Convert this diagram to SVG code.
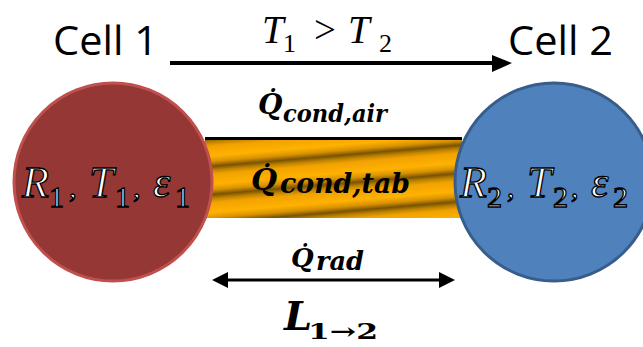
<svg xmlns="http://www.w3.org/2000/svg" width="643" height="347" viewBox="0 0 643 347">
<style>
.title{font-family:"Open Sans","Liberation Sans",sans-serif;font-size:41px;fill:#000}
.math{font-family:"Liberation Serif","DejaVu Serif",serif;font-style:italic;fill:#000}
.up{font-style:normal}
.bq{font-family:"DejaVu Serif","Liberation Serif",serif;font-style:italic;font-weight:bold;fill:#000}
.cm{font-family:"Liberation Serif","DejaVu Serif",serif;font-style:italic;font-size:44px;fill:#fff;stroke:#000;stroke-width:1.3}
.cs{font-style:normal;font-size:30px}
.arrow{stroke:#000;fill:none}
.head{fill:#000}
</style>
<defs>
<linearGradient id="gold" gradientUnits="userSpaceOnUse" x1="0" y1="136" x2="2.4" y2="164" spreadMethod="repeat">
<stop offset="0" stop-color="#f2a200"/>
<stop offset="0.35" stop-color="#ffb200"/>
<stop offset="0.55" stop-color="#d99200"/>
<stop offset="0.72" stop-color="#7a5300"/>
<stop offset="0.86" stop-color="#c08400"/>
<stop offset="1" stop-color="#f2a200"/>
</linearGradient>
</defs>
<rect width="643" height="347" fill="#fff"/>
<g id="tab">
<rect x="205" y="140" width="257" height="78" fill="url(#gold)"/>
<line x1="205" y1="138.5" x2="462" y2="138.5" stroke="#000" stroke-width="3"/>
</g>
<g id="cell1">
<circle cx="113" cy="182" r="99" fill="#953735" stroke="#c0504d" stroke-width="3"/>
<text class="cm" y="197"><tspan x="22">R</tspan><tspan class="cs" x="49" y="207">1</tspan><tspan class="cs" x="69" y="197">,</tspan><tspan x="89">T</tspan><tspan class="cs" x="115" y="207">1</tspan><tspan class="cs" x="133" y="197">,</tspan><tspan x="153">ε</tspan><tspan class="cs" x="175" y="207">1</tspan></text>
</g>
<g id="cell2">
<circle cx="554" cy="182" r="99" fill="#4f81bd" stroke="#385d8a" stroke-width="3"/>
<text class="cm" y="197"><tspan x="460">R</tspan><tspan class="cs" x="487" y="207">2</tspan><tspan class="cs" x="507" y="197">,</tspan><tspan x="527">T</tspan><tspan class="cs" x="553" y="207">2</tspan><tspan class="cs" x="571" y="197">,</tspan><tspan x="591">ε</tspan><tspan class="cs" x="613" y="207">2</tspan></text>
</g>
<g id="connectors">
<line class="arrow" x1="170" y1="63" x2="494" y2="63" stroke-width="4"/>
<polygon class="head" points="492,55 512,63 492,72"/>
<line class="arrow" x1="224" y1="280" x2="443" y2="280" stroke-width="3"/>
<polygon class="head" points="212,280 228,272 228,288"/>
<polygon class="head" points="455,280 439,272 439,288"/>
</g>
<g id="labels">
<text class="title" x="53" y="55" textLength="105" lengthAdjust="spacingAndGlyphs">Cell 1</text>
<text class="title" x="508" y="55" textLength="105" lengthAdjust="spacingAndGlyphs">Cell 2</text>
<text class="math" font-size="39" y="43"><tspan x="262">T</tspan><tspan class="up" font-size="26" x="283" y="52">1</tspan><tspan class="up" x="314" y="43">&gt;</tspan><tspan x="348">T</tspan><tspan class="up" font-size="26" x="379" y="52">2</tspan></text>
<text class="bq" font-size="28" y="114"><tspan x="258">Q̇</tspan><tspan font-size="25" x="283" y="122" textLength="104" lengthAdjust="spacingAndGlyphs">cond,air</tspan></text>
<text class="bq" font-size="30" y="190"><tspan x="251">Q̇</tspan><tspan font-size="28" x="280" y="193" textLength="130" lengthAdjust="spacingAndGlyphs">cond,tab</tspan></text>
<text class="bq" font-size="26" y="267"><tspan x="291">Q̇</tspan><tspan font-size="26" x="316" y="270" textLength="48" lengthAdjust="spacingAndGlyphs">rad</tspan></text>
<text class="bq" font-size="40" y="330"><tspan x="284">L</tspan><tspan font-style="normal" font-size="22" x="308" y="339" textLength="70" lengthAdjust="spacingAndGlyphs">1→2</tspan></text>
</g>
</svg>
